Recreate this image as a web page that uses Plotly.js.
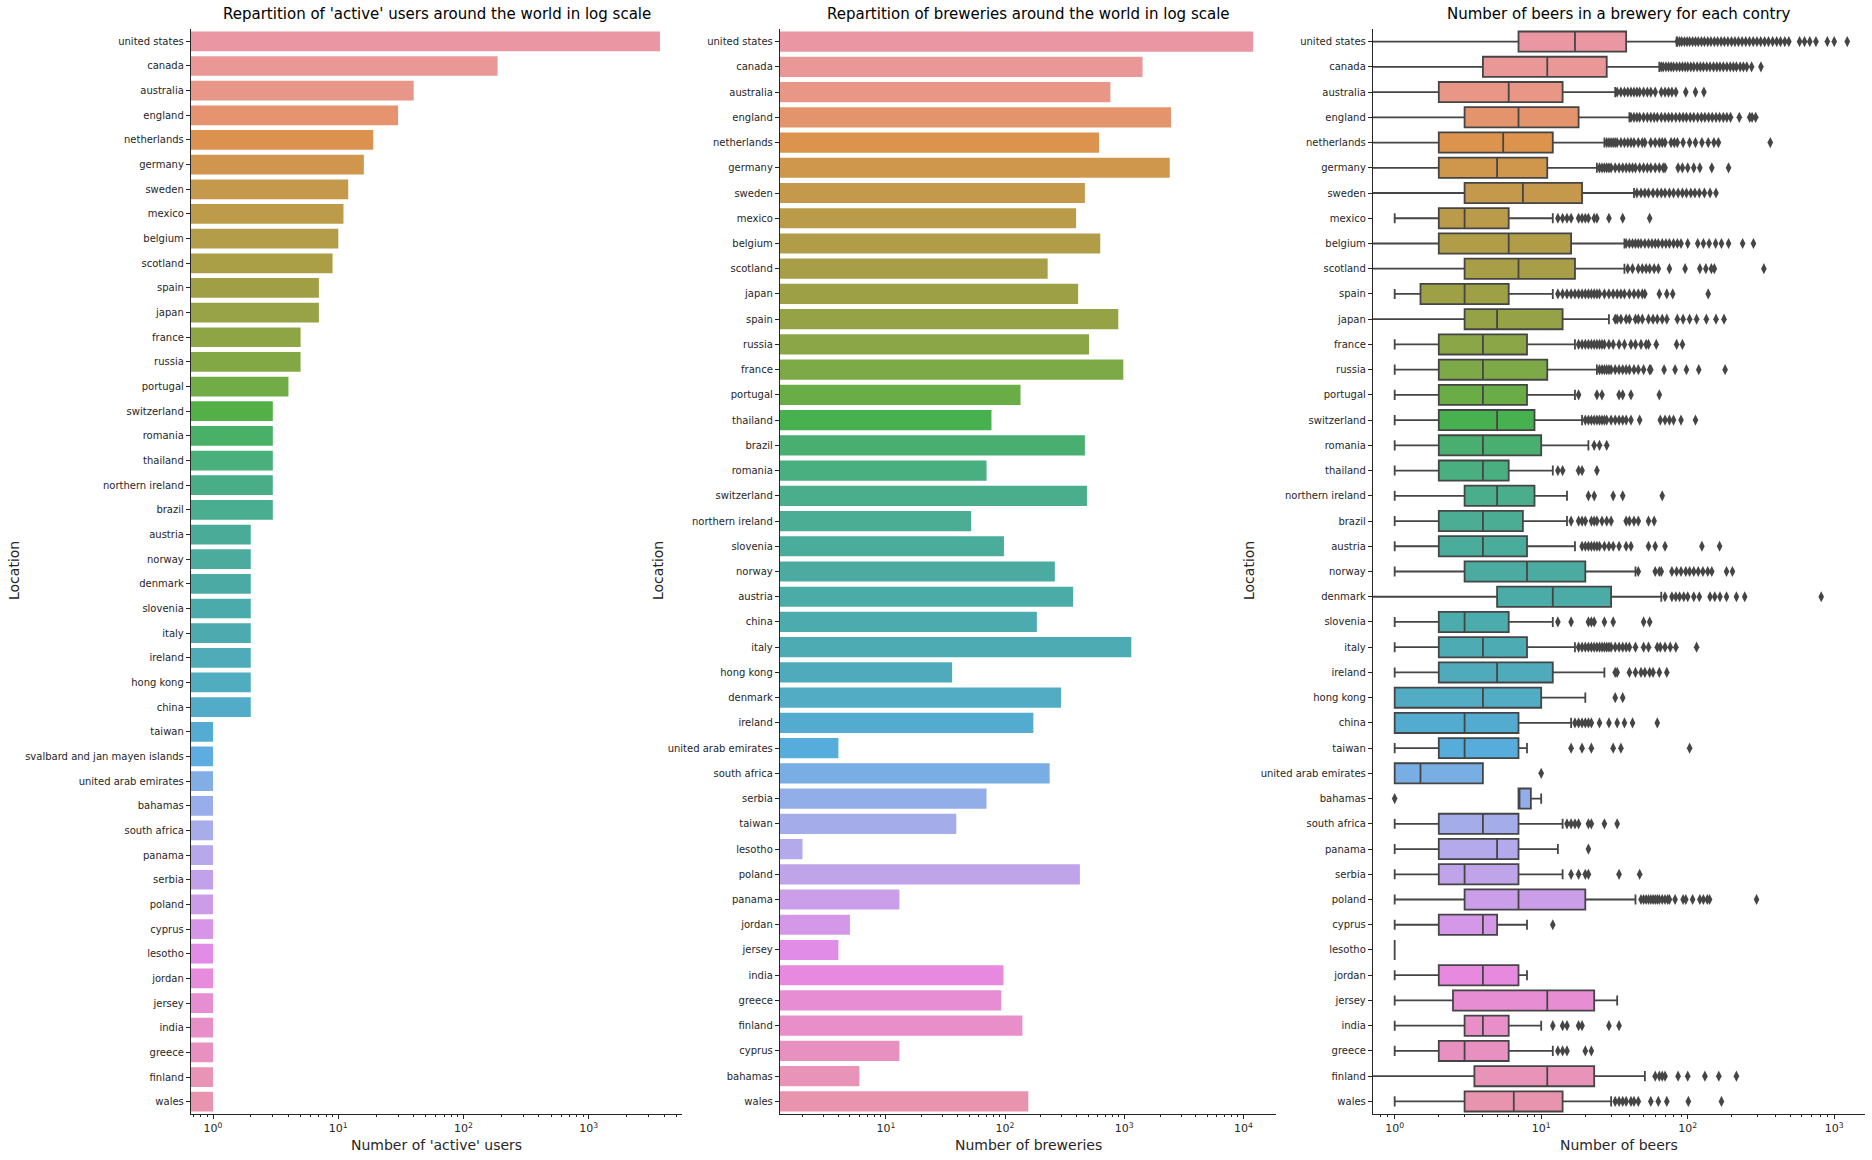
<!DOCTYPE html>
<html>
<head>
<meta charset="utf-8">
<script src="https://cdn.plot.ly/plotly-3.0.1.min.js"></script>
<style>html,body{margin:0;padding:0;background:#fff;}#chart{width:1872px;height:1160px;}</style>
</head>
<body>
<div id="chart"></div>
<script>
// ---------------- DATA ----------------
const usersCountries = ["united states","canada","australia","england","netherlands","germany","sweden","mexico","belgium","scotland","spain","japan","france","russia","portugal","switzerland","romania","thailand","northern ireland","brazil","austria","norway","denmark","slovenia","italy","ireland","hong kong","china","taiwan","svalbard and jan mayen islands","united arab emirates","bahamas","south africa","panama","serbia","poland","cyprus","lesotho","jordan","jersey","india","greece","finland","wales"];
const usersCounts = [3700,187,40,30,19,16,12,11,10,9,7,7,5,5,4,3,3,3,3,3,2,2,2,2,2,2,2,2,1,1,1,1,1,1,1,1,1,1,1,1,1,1,1,1];

const breweryCountries = ["united states","canada","australia","england","netherlands","germany","sweden","mexico","belgium","scotland","japan","spain","russia","france","portugal","thailand","brazil","romania","switzerland","northern ireland","slovenia","norway","austria","china","italy","hong kong","denmark","ireland","united arab emirates","south africa","serbia","taiwan","lesotho","poland","panama","jordan","jersey","india","greece","finland","cyprus","bahamas","wales"];
const breweryCounts = [12100,1426,766,2473,615,2412,468,395,630,228,411,893,507,984,135,77,468,70,487,52,98,262,373,185,1148,36,295,173,4,237,70,39,2,425,13,5,4,97,93,140,13,6,157];

const beerCountries = ["united states","canada","australia","england","netherlands","germany","sweden","mexico","belgium","scotland","spain","japan","france","russia","portugal","switzerland","romania","thailand","northern ireland","brazil","austria","norway","denmark","slovenia","italy","ireland","hong kong","china","taiwan","united arab emirates","bahamas","south africa","panama","serbia","poland","cyprus","lesotho","jordan","jersey","india","greece","finland","wales"];
const beerLowerFence = [0,0,0,0,0,0,0,1,0,0,1,0,1,1,1,1,1,1,1,1,1,1,0,1,1,1,1,1,1,1,7,1,1,1,1,1,1,1,1,1,1,0,1];
const beerQ1 = [7,4,2,3,2,2,3,2,2,3,1.5,3,2,2,2,2,2,2,3,2,2,3,5,2,2,2,1,1,2,1,7,2,2,2,3,2,1,2,2.5,3,2,3.5,3];
const beerMedian = [17,11,6,7,5.5,5,7.5,3,6,7,3,5,4,4,4,5,4,4,5,4,4,8,12,3,4,5,4,3,3,1.5,7,4,5,3,7,4,1,4,11,4,3,11,6.5];
const beerQ3 = [38,28,14,18,12,11,19,6,16,17,6,14,8,11,8,9,10,6,9,7.5,8,20,30,6,8,12,10,7,7,4,8.5,7,7,7,20,5,1,7,23,6,6,23,14];
const beerUpperFence = [84,64,32,40,27,24,43,12,37,37,12,29,17,24,17,19,21,12,15,15,17,44,66,12,17,27,20,16,8,4,10,14,13,14,44,8,1,8,33,10,12,51,30];
const beerOutliers = [
  [85,88,91,95,99,103,108,113,118,124,130,137,144,152,160,169,178,188,199,210,222,235,249,264,280,297,315,335,356,380,405,430,460,490,580,627,681,750,897,1000,1227],
  [66,68,71,74,77,80,84,88,92,96,100,105,110,116,122,128,135,142,150,158,166,175,185,195,205,215,228,240,253,273,316],
  [33,35,37,39,41,43,45,47,50,53,56,60,66,70,74,78,83,97,113,129],
  [41,43,45,47,50,53,56,59,62,66,70,74,78,83,88,93,98,104,110,117,124,131,139,147,156,165,175,185,196,225,265,275,291],
  [28,29,30,31,32,33,35,37,39,41,43,46,49,51,56,60,64,67,70,77,81,85,93,103,113,125,138,151,162,366],
  [25,26,27,28,29,30,32,34,36,38,40,42,44,47,50,53,56,60,64,68,70,86,92,100,110,121,146,190],
  [45,48,51,54,58,62,66,70,75,80,86,92,98,105,112,120,130,142,156],
  [13,14,15,16,18,19,20,21,23,24,29,36,55],
  [38,40,42,44,46,48,51,54,57,60,63,67,71,75,80,85,90,100,117,128,140,155,170,190,237,281],
  [39,42,46,49,52,55,59,63,75,96,121,133,145,152,331],
  [13,14,15,16,17,18,19,20,21,22,23,24,25,27,29,31,33,35,37,40,43,46,49,51,64,72,79,138],
  [32,33,35,38,40,44,46,49,54,58,62,67,72,85,93,103,115,134,156,177],
  [18,19,20,21,22,23,24,25,26,27,29,31,34,37,41,44,48,52,54,61,84,92],
  [25,26,27,28,29,30,32,34,36,38,40,43,46,50,55,56,69,82,98,119,180],
  [18,24,26,34,36,41,64],
  [20,21,22,23,24,25,26,27,28,30,32,34,36,38,41,47,65,70,75,80,90,113],
  [23,25,28],
  [13,14,18,19,24],
  [21,23,31,36,67],
  [16,18,19,20,22,23,24,26,28,30,38,40,43,46,54,59],
  [19,20,21,22,23,24,25,27,29,31,34,38,41,54,60,70,125,165],
  [46,60,64,66,78,84,90,97,103,110,118,127,137,146,184,202],
  [70,78,83,88,94,100,110,120,142,153,166,184,215,245,815],
  [13,16,21,22,23,27,31,50,55],
  [18,19,20,21,22,23,24,25,26,27,28,29,30,32,34,36,38,40,44,50,54,62,65,70,76,83,115],
  [32,33,40,44,48,51,55,58,64,72],
  [32,36],
  [17,18,19,20,21,22,25,29,33,37,42,62],
  [16,19,22,31,35,103],
  [10],
  [1],
  [15,16,17,18,21,22,27,33],
  [21],
  [16,18,20,21,34,47],
  [48,50,52,54,56,58,60,62,64,67,70,73,75,82,93,97,108,121,128,136,141,295],
  [12],
  [],
  [],
  [],
  [12,14,15,18,19,29,34],
  [13,14,15,20,22],
  [60,64,67,70,86,100,131,163,215],
  [32,34,36,38,41,43,46,56,63,72,101,170]
];

const logTickVals = [1,10,100,1000,10000];
const logTickText = ["10<sup>0</sup>","10<sup>1</sup>","10<sup>2</sup>","10<sup>3</sup>","10<sup>4</sup>"];

// ---------------- COLORS (seaborn husl palette l=.7, desaturated 0.75) ----------------
const M = [[3.2406,-1.5372,-0.4986],[-0.9689,1.8758,0.0415],[0.0557,-0.2040,1.0570]];
const refU = 0.19784, refV = 0.46834, labE = 0.008856, labK = 903.3;
function maxChroma(L,H){
  const hr = H/360*2*Math.PI, sH = Math.sin(hr), cH = Math.cos(hr);
  const sub1 = Math.pow(L+16,3)/1560896;
  const sub2 = sub1 > labE ? sub1 : L/labK;
  let res = Infinity;
  for (const [m1,m2,m3] of M){
    const top = (0.99915*m1 + 1.05122*m2 + 1.14460*m3)*sub2;
    const rb = 0.86330*m3 - 0.17266*m2;
    const lb = 0.12949*m3 - 0.38848*m1;
    const bottom = (rb*sH + lb*cH)*sub2;
    for (const t of [0,1]){
      const C = L*(top - 1.05122*t)/(bottom + 0.17266*sH*t);
      if (C > 0 && C < res) res = C;
    }
  }
  return res;
}
function fInv(t){ const t3 = t*t*t; return t3 > labE ? t3 : (116*t-16)/labK; }
function fromLinear(c){ return c <= 0.0031308 ? 12.92*c : 1.055*Math.pow(c,1/2.4)-0.055; }
function huslToRgb(H,S,L){
  const C = maxChroma(L,H)/100*S;
  const hr = H/360*2*Math.PI;
  const U = Math.cos(hr)*C, V = Math.sin(hr)*C;
  const Y = fInv((L+16)/116);
  const vU = U/(13*L)+refU, vV = V/(13*L)+refV;
  const X = 0 - (9*Y*vU)/((vU-4)*vV - vU*vV);
  const Z = (9*Y - 15*vV*Y - vV*X)/(3*vV);
  return M.map(r => Math.min(1, Math.max(0, fromLinear(r[0]*X + r[1]*Y + r[2]*Z))));
}
function rgbToHls(r,g,b){
  const mx = Math.max(r,g,b), mn = Math.min(r,g,b);
  const l = (mx+mn)/2;
  if (mx === mn) return [0,l,0];
  const s = l <= 0.5 ? (mx-mn)/(mx+mn) : (mx-mn)/(2-mx-mn);
  const rc = (mx-r)/(mx-mn), gc = (mx-g)/(mx-mn), bc = (mx-b)/(mx-mn);
  let h;
  if (r === mx) h = bc-gc; else if (g === mx) h = 2+rc-bc; else h = 4+gc-rc;
  h = ((h/6)%1+1)%1;
  return [h,l,s];
}
function hv(m1,m2,h){ h = ((h%1)+1)%1; if (h < 1/6) return m1+(m2-m1)*h*6; if (h < 0.5) return m2; if (h < 2/3) return m1+(m2-m1)*(2/3-h)*6; return m1; }
function hlsToRgb(h,l,s){
  if (s === 0) return [l,l,l];
  const m2 = l <= 0.5 ? l*(1+s) : l+s-l*s, m1 = 2*l-m2;
  return [hv(m1,m2,h+1/3), hv(m1,m2,h), hv(m1,m2,h-1/3)];
}
function toHex(c){ return '#' + c.map(v => Math.round(v*255).toString(16).padStart(2,'0')).join(''); }
function seabornColors(n){
  const out = [];
  for (let i=0;i<n;i++){
    const h = ((i/n + 0.01) % 1) * 359;
    const rgb = huslToRgb(h, 0.9*99, 0.7*99);
    const [hh,ll,ss] = rgbToHls(...rgb);
    out.push(hlsToRgb(hh,ll,ss*0.75));
  }
  return out;
}
const cols1 = seabornColors(usersCountries.length);
const cols2 = seabornColors(breweryCountries.length);
const cols3 = seabornColors(beerCountries.length);
const lum = Math.min(...cols3.map(c => rgbToHls(...c)[1])) * 0.6;
const gray = toHex([lum,lum,lum]);

// ---------------- TRACES ----------------
const traces = [];
traces.push({type:'bar', orientation:'h', x: usersCounts, y: usersCountries, width: 0.8,
  marker:{color: cols1.map(toHex), line:{width:0}}, xaxis:'x', yaxis:'y', hoverinfo:'x+y'});
traces.push({type:'bar', orientation:'h', x: breweryCounts, y: breweryCountries, width: 0.8,
  marker:{color: cols2.map(toHex), line:{width:0}}, xaxis:'x2', yaxis:'y2', hoverinfo:'x+y'});
beerCountries.forEach((c,i) => {
  traces.push({type:'box', orientation:'h', y:[c], q1:[beerQ1[i]], median:[beerMedian[i]], q3:[beerQ3[i]],
    lowerfence:[beerLowerFence[i]], upperfence:[beerUpperFence[i]], boxpoints:false,
    width:0.8, whiskerwidth:0.5, fillcolor: toHex(cols3[i]), line:{color: gray, width:1.8},
    xaxis:'x3', yaxis:'y3', showlegend:false});
});
const oX = [], oY = [];
beerOutliers.forEach((arr,i) => arr.forEach(v => { oX.push(v); oY.push(beerCountries[i]); }));
traces.push({type:'scatter', mode:'markers', x:oX, y:oY, xaxis:'x3', yaxis:'y3',
  marker:{symbol:'diamond-tall', size:8, color: gray, line:{width:0}}, showlegend:false});

// ---------------- LAYOUT ----------------
const W = 1872, H = 1160;
const yDom = [1-1114/H, 1-29/H];
const minorVals = [];
for (let d=-1; d<=4; d++) for (let k=2;k<=9;k++) minorVals.push(k*Math.pow(10,d));
const font = {family:'DejaVu Sans, sans-serif', color:'#262626'};
function xax(dom, range){
  return {type:'log', domain:dom, range:range, showline:true, linecolor:'#262626', linewidth:1.2,
    ticks:'outside', ticklen:4, tickwidth:1, tickcolor:'#262626', tickmode:'array',
    tickvals: logTickVals, ticktext: logTickText, tickfont:{size:11, color:'#262626'},
    showgrid:false, zeroline:false,
    minor:{tickmode:'array', tickvals:minorVals, ticks:'outside', ticklen:2, tickcolor:'#262626', showgrid:false}};
}
function yax(dom, cats, anchor){
  return {type:'category', domain:dom, categoryorder:'array', categoryarray:cats, range:[cats.length-0.5,-0.5],
    showline:true, linecolor:'#262626', linewidth:1.2, ticks:'outside', ticklen:4, tickcolor:'#262626',
    tickfont:{size:10, color:'#262626'}, showgrid:false, zeroline:false, anchor:anchor};
}
const d1 = [191/W, 682/W], d2 = [780/W, 1276/W], d3 = [1373/W, 1865/W];
const layout = {
  width:W, height:H, margin:{l:0,r:0,t:0,b:0}, paper_bgcolor:'#fff', plot_bgcolor:'#fff',
  font: font, showlegend:false, boxmode:'overlay', hovermode:'closest',
  xaxis: Object.assign(xax(d1,[-0.176,3.744]), {anchor:'y'}),
  yaxis: yax(yDom, usersCountries, 'x'),
  xaxis2: Object.assign(xax(d2,[0.112,4.274]), {anchor:'y2'}),
  yaxis2: yax(yDom, breweryCountries, 'x2'),
  xaxis3: Object.assign(xax(d3,[-0.148,3.21]), {anchor:'y3'}),
  yaxis3: yax(yDom, beerCountries, 'x3'),
  annotations: [
    {text:"Repartition of 'active' users around the world in log scale", x:(d1[0]+d1[1])/2, y:1-14/H},
    {text:"Repartition of breweries around the world in log scale", x:(d2[0]+d2[1])/2, y:1-14/H},
    {text:"Number of beers in a brewery for each contry", x:(d3[0]+d3[1])/2, y:1-14/H}
  ].map(a => Object.assign(a, {xref:'paper', yref:'paper', showarrow:false, xanchor:'center', yanchor:'middle', font:{size:15, color:'#000'}}))
  .concat([
    {text:"Number of 'active' users", x:(d1[0]+d1[1])/2},
    {text:"Number of breweries", x:(d2[0]+d2[1])/2},
    {text:"Number of beers", x:(d3[0]+d3[1])/2}
  ].map(a => Object.assign(a, {y:1-1145/H, xref:'paper', yref:'paper', showarrow:false, xanchor:'center', yanchor:'middle', font:{size:14, color:'#262626'}})))
  .concat([14, 658, 1249].map(x => ({text:'Location', x:x/W, y:1-571/H, xref:'paper', yref:'paper', showarrow:false,
    textangle:-90, xanchor:'center', yanchor:'middle', font:{size:14, color:'#262626'}})))
};
Plotly.newPlot('chart', traces, layout, {staticPlot:true});
</script>
</body>
</html>
